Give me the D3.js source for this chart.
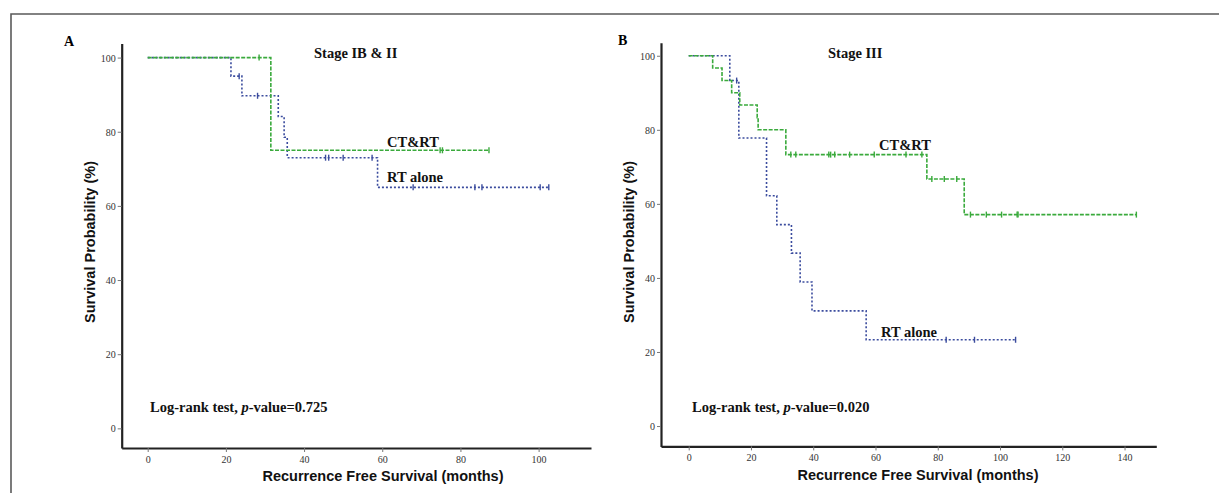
<!DOCTYPE html>
<html lang="en">
<head>
<meta charset="utf-8">
<title>Recurrence free survival</title>
<script src="https://cdn.jsdelivr.net/npm/d3@7"></script>
<style>
  body { margin: 0; background: #fff; }
  svg { display: block; }
</style>
</head>
<body>
<script>
// ticks
var probTicks = [0, 20, 40, 60, 80, 100];
var monthTicksA = [0, 20, 40, 60, 80, 100];
var monthTicksB = [0, 20, 40, 60, 80, 100, 120, 140];

// panel A : stage IB & II  (event time, survival after the step)
var aCtrtTimes = [0, 31.5];
var aCtrtSurv = [100, 75];
var aCtrtEnd = 87.3;
var aCtrtCensor = [28.5, 74.8, 75.4, 87.3];

var aRtTimes = [0, 21.3, 24.1, 33.4, 34.9, 35.7, 58.8];
var aRtSurv = [100, 95, 89.7, 84.1, 78.5, 73, 65];
var aRtEnd = 102.6;
var aRtCensor = [23.4, 28.1, 45.5, 46.3, 50.0, 57.4, 67.9, 83.7, 85.5, 100.4, 102.6];

// panel B : stage III
var bCtrtTimes = [0, 7.7, 10.7, 13.8, 16.4, 22.0, 22.3, 31.2, 76.5, 88.5];
var bCtrtSurv = [100, 96.7, 93.3, 90, 86.7, 83.3, 80, 73.3, 66.7, 57.1];
var bCtrtEnd = 143.8;
var bCtrtCensor = [32.8, 34.4, 45.0, 45.6, 46.9, 51.7, 59.6, 69.8, 74.9,
                   78.1, 82.1, 86.1, 90.5, 95.6, 100.5, 105.5, 105.8, 143.8];

var bRtTimes = [0, 13.2, 16.1, 25.0, 28.3, 33.0, 35.8, 39.6, 57.0];
var bRtSurv = [100, 93.3, 77.8, 62.2, 54.4, 46.7, 38.9, 31.1, 23.3];
var bRtEnd = 105.0;
var bRtCensor = [15.4, 82.7, 91.8, 105.0];

var green = "#3aaa3c";
var blue = "#3b4c9e";

var svg = d3.select("body").append("svg")
    .attr("width", 1219)
    .attr("height", 493);

// frame
svg.append("path")
    .attr("d", "M11,493V14H1219")
    .attr("fill", "none")
    .attr("stroke", "#5a5a5a")
    .attr("stroke-width", 1.6);

function survAt(times, surv, t) {
    var i = d3.bisectRight(times, t) - 1;
    return surv[Math.max(0, i)];
}

function drawPanel(p) {
    var x = d3.scaleLinear().domain(p.xDomain).range(p.xRange);
    var y = d3.scaleLinear().domain(p.yDomain).range(p.yRange);
    var g = svg.append("g");

    var yAxis = g.append("g")
        .attr("transform", "translate(" + p.xRange[0] + ",0)")
        .call(d3.axisLeft(y).tickValues(probTicks).tickSizeInner(4).tickSizeOuter(0).tickPadding(2));
    var xAxis = g.append("g")
        .attr("transform", "translate(0," + p.yRange[0] + ")")
        .call(d3.axisBottom(x).tickValues(p.xTicks).tickSizeInner(4).tickSizeOuter(0).tickPadding(4));

    [xAxis, yAxis].forEach(function(a) {
        a.select(".domain").attr("stroke", "#222").attr("stroke-width", 2.2);
        a.selectAll(".tick line").attr("stroke", "#777").attr("stroke-width", 1);
        a.selectAll(".tick text")
            .attr("fill", "#333")
            .style("font-family", "'Liberation Serif', 'Times New Roman', serif")
            .style("font-size", "10px");
    });
    yAxis.selectAll(".tick text").attr("dy", "0.36em");

    var line = d3.line()
        .x(function(d) { return x(d[0]); })
        .y(function(d) { return y(d[1]); })
        .curve(d3.curveStepAfter);

    p.series.forEach(function(s) {
        var pts = s.times.map(function(t, i) { return [t, s.surv[i]]; });
        pts.push([s.end, s.surv[s.surv.length - 1]]);
        g.append("path")
            .datum(pts)
            .attr("d", line)
            .attr("fill", "none")
            .attr("stroke", s.color)
            .attr("stroke-width", 1.6)
            .attr("stroke-dasharray", s.dash);

        g.selectAll(null)
            .data(s.censor)
            .enter()
            .append("line")
            .attr("x1", function(d) { return x(d); })
            .attr("x2", function(d) { return x(d); })
            .attr("y1", function(d) { return y(survAt(s.times, s.surv, d)) - 3; })
            .attr("y2", function(d) { return y(survAt(s.times, s.surv, d)) + 3; })
            .attr("stroke", s.color)
            .attr("stroke-width", 1.4);
    });

    var serif = "'Liberation Serif', 'Times New Roman', serif";
    var sans = "'Liberation Sans', Arial, sans-serif";

    g.append("text")
        .attr("x", p.letter[0]).attr("y", p.letter[1])
        .text(p.letter[2])
        .style("font-family", serif).style("font-weight", "bold").style("font-size", "14px");

    p.labels.forEach(function(l) {
        var t = g.append("text")
            .attr("x", l[0]).attr("y", l[1])
            .style("font-family", serif).style("font-weight", "bold").style("font-size", "14.5px")
            .attr("fill", "#111");
        if (l[3]) {
            t.append("tspan").text("Log-rank test, ");
            t.append("tspan").style("font-style", "italic").text("p");
            t.append("tspan").text("-value=" + l[3]);
        } else {
            t.text(l[2]);
        }
    });

    g.append("text")
        .attr("x", p.xTitle[0]).attr("y", p.xTitle[1])
        .attr("text-anchor", "middle")
        .style("font-family", sans).style("font-weight", "bold").style("font-size", "14.5px")
        .attr("fill", "#111")
        .text("Recurrence Free Survival (months)");

    g.append("text")
        .attr("transform", "translate(" + p.yTitle[0] + "," + p.yTitle[1] + ") rotate(-90)")
        .attr("text-anchor", "middle")
        .style("font-family", sans).style("font-weight", "bold").style("font-size", "14.5px")
        .attr("fill", "#111")
        .text("Survival Probability (%)");
}

drawPanel({
    xDomain: [-6.65, 113.4], xRange: [121.7, 591],
    yDomain: [-5.3, 103.8], yRange: [448, 43.5],
    xTicks: monthTicksA,
    series: [
        {times: aRtTimes, surv: aRtSurv, end: aRtEnd, censor: aRtCensor, color: blue, dash: "2,2"},
        {times: aCtrtTimes, surv: aCtrtSurv, end: aCtrtEnd, censor: aCtrtCensor, color: green, dash: "4,1.5"}
    ],
    letter: [64, 46, "A"],
    labels: [
        [314, 58, "Stage IB & II"],
        [387, 146.5, "CT&RT"],
        [387, 181.5, "RT alone"],
        [150, 412, "", "0.725"]
    ],
    xTitle: [383, 481],
    yTitle: [95, 242]
});

drawPanel({
    xDomain: [-8.9, 150.2], xRange: [661, 1156.3],
    yDomain: [-5.5, 103.5], yRange: [446.4, 42.8],
    xTicks: monthTicksB,
    series: [
        {times: bRtTimes, surv: bRtSurv, end: bRtEnd, censor: bRtCensor, color: blue, dash: "2,2"},
        {times: bCtrtTimes, surv: bCtrtSurv, end: bCtrtEnd, censor: bCtrtCensor, color: green, dash: "4,1.5"}
    ],
    letter: [618, 45, "B"],
    labels: [
        [828, 58, "Stage III"],
        [879, 150, "CT&RT"],
        [881, 336.5, "RT alone"],
        [692, 412, "", "0.020"]
    ],
    xTitle: [918, 480],
    yTitle: [634, 242]
});
</script>
</body>
</html>
